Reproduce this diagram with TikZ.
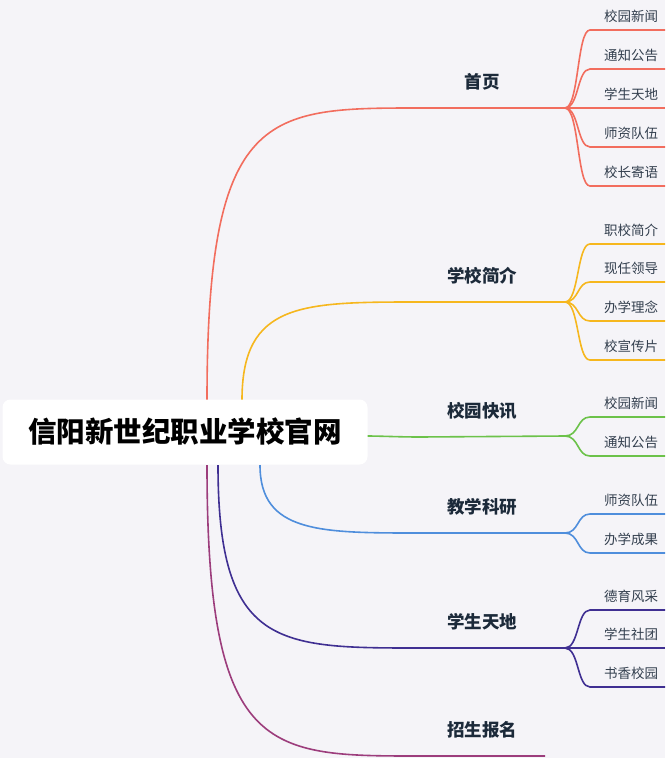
\documentclass[tikz,border=0pt]{standalone}
\usepackage{fontspec}
\usetikzlibrary{calc}
\newfontfamily\cjk{Noto Sans CJK SC}
\definecolor{bg}{HTML}{F5F4F8}
\definecolor{cA}{HTML}{F26D5E}
\definecolor{cB}{HTML}{F6B71E}
\definecolor{cC}{HTML}{6CC24A}
\definecolor{cD}{HTML}{4F8EDC}
\definecolor{cE}{HTML}{3F2F92}
\definecolor{cF}{HTML}{9C3D7C}
\definecolor{tx}{HTML}{1C2A3A}
\tikzset{
 branch/.style={line width=1.6pt},
 lbl/.style={font=\cjk\fontsize{17.5}{19}\selectfont\bfseries, text=tx},
 sub/.style={font=\cjk\fontsize{13.5}{15}\selectfont, text=tx!90},
}
\begin{document}
\begin{tikzpicture}[x=1pt,y=-1pt]
\fill[bg] (0,0) rectangle (665,758);
\useasboundingbox (0,0) rectangle (665,758);
\foreach \n/\sx/\sy/\ey/\ex/\c/\t in {a/207/400/108/565/cA/首页, b/242/400/302/565/cB/学校简介, d/260/465/533/565/cD/教学科研, e/218/465/648/565/cE/学生天地, f/207/465/756/545/cF/招生报名}{
  \coordinate (s\n) at (\sx,\sy);
  \coordinate (m\n) at (420,\ey);
  \coordinate (h\n) at (\ex,\ey);
  \draw[branch,\c] (s\n) .. controls (\sx,\ey) and (\sx+60,\ey) .. (m\n) -- (h\n);
  \node[lbl] (l\n) at (482,\ey-26) {\t};
}
\coordinate (sc) at (367,436);
\coordinate (hc) at (565,436);
\draw[branch,cC] (sc) .. controls (380,436) and (400,437) .. (420,437) -- (hc);
\node[lbl] (lc) at (482,411) {校园快讯};
\node[fill=white, rounded corners=8pt, minimum width=365pt, minimum height=65pt, inner sep=0pt, font=\cjk\fontsize{28.5}{32}\selectfont\bfseries, text=black] (root) at (185,432) {信阳新世纪职业学校官网};
\foreach \p/\c/\y/\t [count=\i] in {a/cA/30/校园新闻, a/cA/69/通知公告, a/cA/108/学生天地, a/cA/147/师资队伍, a/cA/186/校长寄语,
  b/cB/244/职校简介, b/cB/282/现任领导, b/cB/321/办学理念, b/cB/360/校宣传片,
  c/cC/417/校园新闻, c/cC/456/通知公告,
  d/cD/514/师资队伍, d/cD/553/办学成果,
  e/cE/610/德育风采, e/cE/648/学生社团, e/cE/687/书香校园}{
  \coordinate (k\i) at (665,\y);
  \draw[branch,\c] (h\p) .. controls ($(h\p)+(14,0)$) and (577,\y) .. (590,\y) -- (k\i);
  \node[sub] (t\i) at (631,\y-14) {\t};
}
\end{tikzpicture}
\end{document}
